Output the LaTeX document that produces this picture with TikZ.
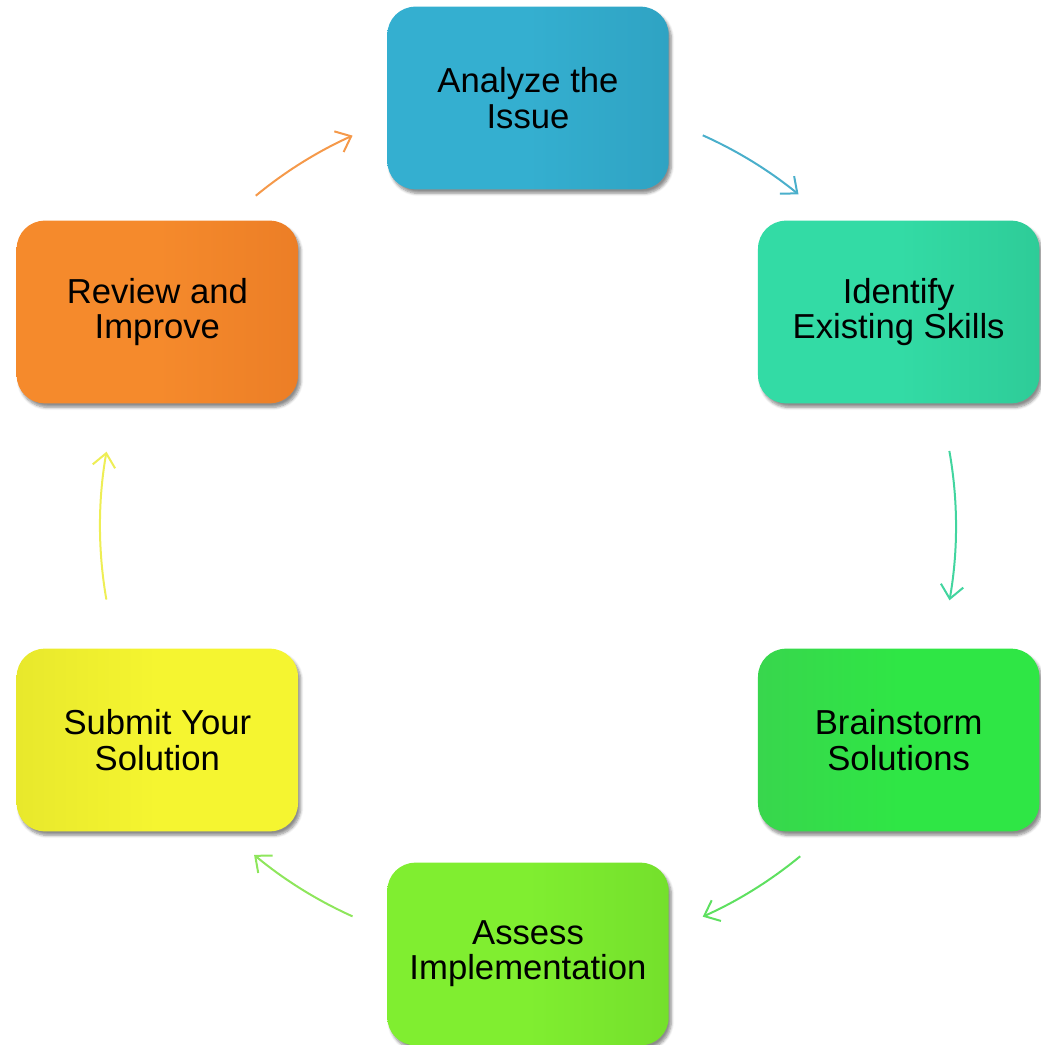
\documentclass[tikz,border=0pt]{standalone}
\usepackage{fontspec}
\setmainfont{Liberation Sans}
\usetikzlibrary{arrows.meta,shadows.blur}
\definecolor{cA}{HTML}{34AFD0}\definecolor{cAd}{HTML}{2FA3C3}
\definecolor{cB}{HTML}{33DBA5}\definecolor{cBd}{HTML}{2ECC98}
\definecolor{cC}{HTML}{2FE645}\definecolor{cCd}{HTML}{38D64D}
\definecolor{cD}{HTML}{80EE30}\definecolor{cDd}{HTML}{74E02C}
\definecolor{cE}{HTML}{F5F530}\definecolor{cEd}{HTML}{E8E82C}
\definecolor{cF}{HTML}{F58A2C}\definecolor{cFd}{HTML}{EC7E26}
\definecolor{aA}{HTML}{4AAFCB}\definecolor{aB}{HTML}{42D59F}
\definecolor{aC}{HTML}{5EE060}\definecolor{aD}{HTML}{8EE65C}
\definecolor{aE}{HTML}{EEEE55}\definecolor{aF}{HTML}{F5994A}
\begin{document}
\begin{tikzpicture}[x=0.75pt,y=0.75pt,
  stepbox/.style={rounded corners=21pt, minimum width=211pt, minimum height=137pt,
    align=center, font=\fontsize{26}{26.5}\selectfont, text=black,
    blur shadow={shadow xshift=2pt, shadow yshift=-3pt, shadow opacity=45, shadow blur steps=6}},
  cyc/.style={line width=1.5pt, -{Straight Barb[length=10pt,width=17pt,line width=1.5pt]}}]
\useasboundingbox (-528,526) rectangle (513,-519);
\coordinate (c) at (0,0);
\node[stepbox, left color=cA, right color=cAd, middle color=cA] (n1) at (90:428) {Analyze the\\Issue};
\node[stepbox, left color=cB, right color=cBd, middle color=cB] (n2) at (30:428) {Identify\\Existing Skills};
\node[stepbox, left color=cCd, right color=cC, middle color=cC] (n3) at (-30:428) {Brainstorm\\Solutions};
\node[stepbox, left color=cD, right color=cDd, middle color=cD] (n4) at (-90:428) {Assess\\Implementation};
\node[stepbox, left color=cEd, right color=cE, middle color=cE] (n5) at (-150:428) {Submit Your\\Solution};
\node[stepbox, left color=cF, right color=cFd, middle color=cF] (n6) at (150:428) {Review and\\Improve};
\draw[cyc, aA] (65.9:428) arc[start angle=65.9, end angle=50.8, radius=428];
\draw[cyc, aB] (10.1:428) arc[start angle=10.1, end angle=-10, radius=428];
\draw[cyc, aC] (-50.5:428) arc[start angle=-50.5, end angle=-65.9, radius=428];
\draw[cyc, aD] (-114.2:428) arc[start angle=-114.2, end angle=-129.8, radius=428];
\draw[cyc, aE] (-170.1:428) arc[start angle=-170.1, end angle=-190, radius=428];
\draw[cyc, aF] (129.5:428) arc[start angle=129.5, end angle=114.2, radius=428];
\end{tikzpicture}
\end{document}
